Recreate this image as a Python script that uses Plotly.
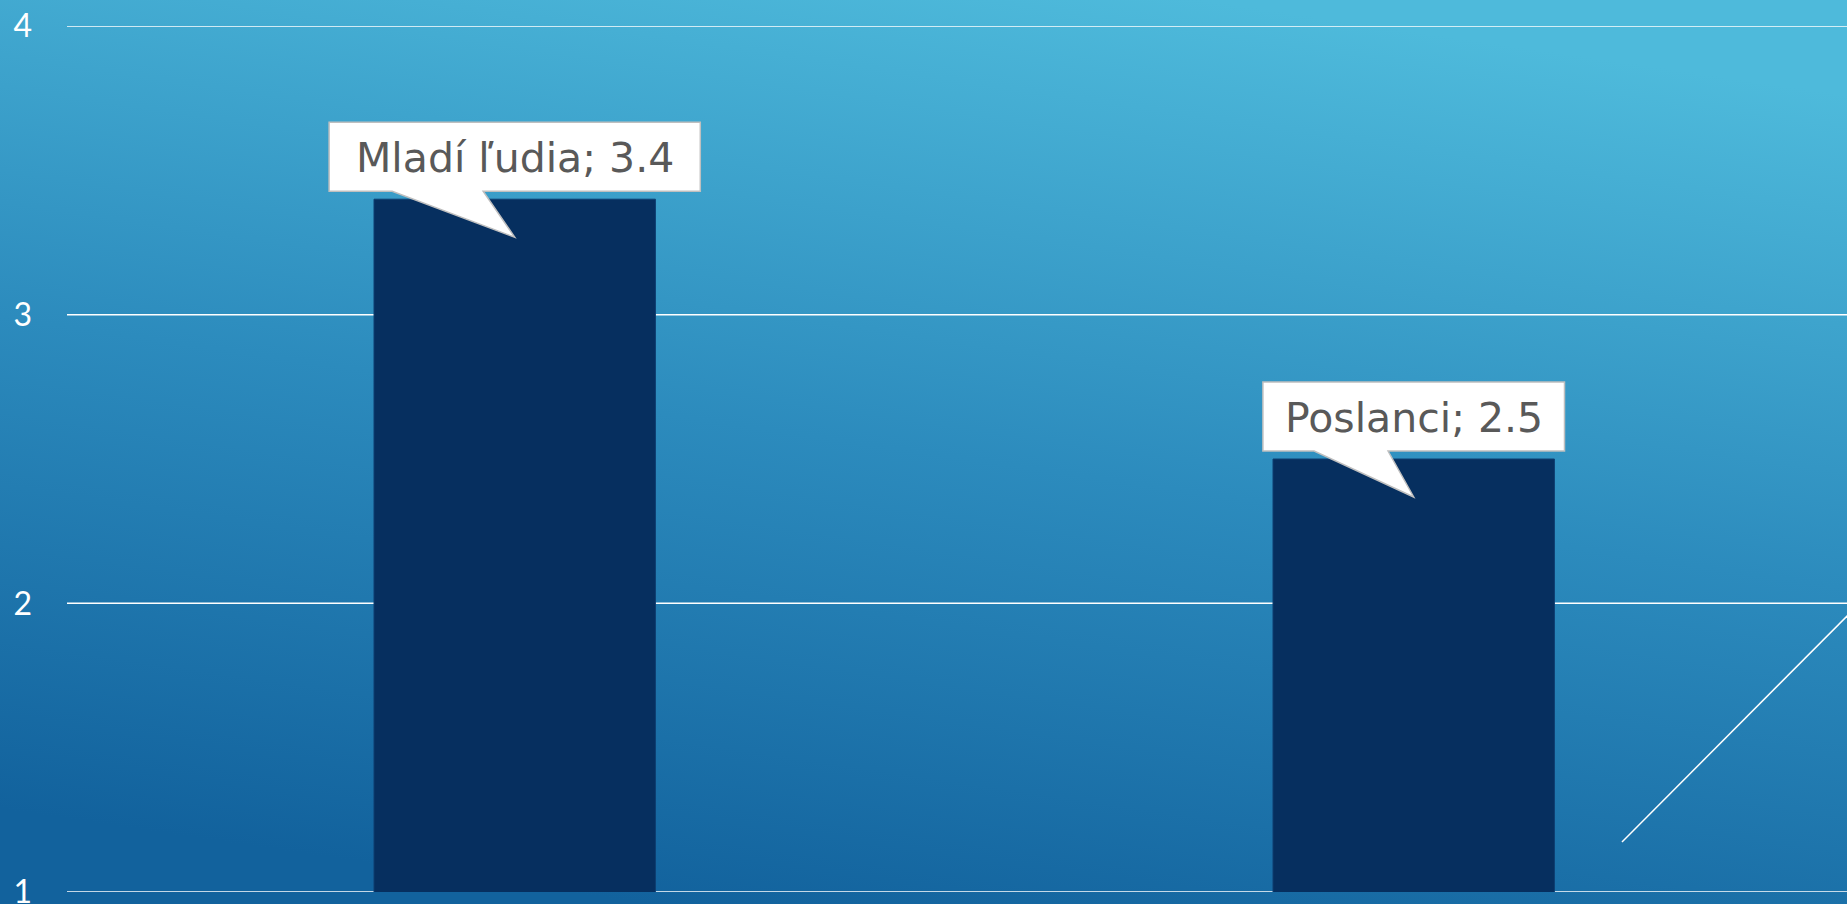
import base64
import plotly.graph_objects as go

# chart data
categories = ["Mladí ľudia", "Poslanci"]
values = [3.4, 2.5]
y_ticks = [1, 2, 3, 4]

W, H = 1847, 904
ML, MR, MT, MB = 67, 0, 26, 12

# gradient background as an svg image
svg = """<svg xmlns='http://www.w3.org/2000/svg' width='1847' height='904' preserveAspectRatio='none'>
<defs><linearGradient id='g' x1='0.35' y1='1' x2='0.65' y2='0'>
<stop offset='0' stop-color='#12629D'/>
<stop offset='0.5' stop-color='#2C8BBD'/>
<stop offset='1' stop-color='#4EBADB'/>
</linearGradient></defs>
<rect width='1847' height='904' fill='url(#g)'/></svg>"""
bg_src = "data:image/svg+xml;base64," + base64.b64encode(svg.encode()).decode()

pw, ph = W - ML - MR, H - MT - MB

fig = go.Figure()
fig.add_trace(go.Bar(x=list(range(len(categories))), y=values, width=0.313,
                     marker=dict(color="#062F5F", line=dict(color="#0E3E70", width=1)),
                     hoverinfo="skip"))

shapes = []
# horizontal gridlines (drawn as shapes so the ones at the range ends show too)
for t in y_ticks:
    shapes.append(dict(type="line", xref="paper", yref="y", x0=0, x1=1, y0=t, y1=t,
                       line=dict(color="white", width=1.5), layer="below"))

# callouts: white box with wedge pointing into the bar, drawn in pixel units
annotations = []
for i, (c, v) in enumerate(zip(categories, values)):
    label = f"{c}; {v}"
    hw = 11.6 * len(label)
    wl, wr = -0.66 * hw, -0.17 * hw
    path = (f"M {-hw},8 L {wl},8 L 0,-38 L {wr},8 L {hw},8 "
            f"L {hw},77 L {-hw},77 Z")
    shapes.append(dict(type="path", xref="x", yref="y", xsizemode="pixel", ysizemode="pixel",
                       xanchor=i, yanchor=v, path=path, fillcolor="white",
                       line=dict(color="#BFBFBF", width=1.5), layer="above"))
    annotations.append(dict(x=i, y=v, xref="x", yref="y", text=label, showarrow=False,
                            yanchor="middle", xanchor="center", yshift=41,
                            font=dict(family="DejaVu Sans, sans-serif", size=41, color="#595959")))

# decorative diagonal stroke at the lower right
shapes.append(dict(type="line", xref="paper", yref="paper",
                   x0=(1622 - ML) / pw, y0=(H - MB - 842) / ph,
                   x1=(1867 - ML) / pw, y1=(H - MB - 596) / ph,
                   line=dict(color="white", width=1.5), layer="above"))

fig.update_layout(
    width=W, height=H,
    margin=dict(l=ML, r=MR, t=MT, b=MB, autoexpand=False),
    paper_bgcolor="#2C8BBD", plot_bgcolor="rgba(0,0,0,0)",
    showlegend=False,
    shapes=shapes, annotations=annotations,
    images=[dict(source=bg_src, xref="paper", yref="paper",
                 x=-ML / pw, y=1 + MT / ph, sizex=W / pw, sizey=H / ph,
                 sizing="stretch", xanchor="left", yanchor="top", layer="below")],
    xaxis=dict(range=[-0.498, -0.498 + pw / 899], showticklabels=False, showgrid=False,
               zeroline=False, showline=False, fixedrange=True, automargin=False),
    yaxis=dict(range=[1, 4], tickvals=y_ticks, showgrid=False, automargin=False,
               zeroline=False, showline=False, ticks="", ticklabelstandoff=34,
               ticklabeloverflow="allow",
               tickfont=dict(family="Lato, sans-serif", size=32, color="white"),
               fixedrange=True),
)

fig.write_html("out.html", config={"displayModeBar": False},
               post_script="document.body.style.margin='0';")
